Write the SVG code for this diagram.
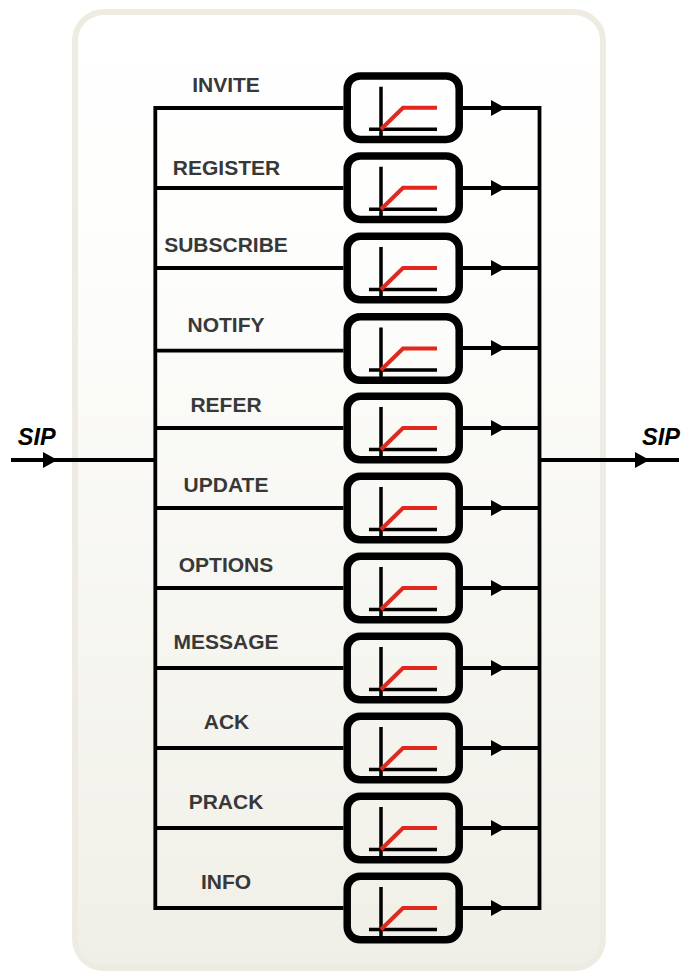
<svg xmlns="http://www.w3.org/2000/svg" width="683" height="971" viewBox="0 0 683 971">
<style>
.w{fill:none;stroke:#000;stroke-width:3.8}
.b{fill:none;stroke:#000;stroke-width:7.5}
.a{fill:none;stroke:#000;stroke-width:3.5}
.r{fill:none;stroke:#e1281e;stroke-width:4}
.l{font:bold 21px "Liberation Sans",Arial,sans-serif;fill:#383838;text-anchor:middle}
.s{font:italic bold 23.500px "Liberation Sans",Arial,sans-serif;fill:#000;text-anchor:middle}
</style>
<defs>
<linearGradient id="g" x1="0" y1="0" x2="0" y2="1"><stop offset="0" stop-color="#fff"/><stop offset="0.2" stop-color="#fefefd"/><stop offset="1" stop-color="#f0efe7"/></linearGradient>
<g id="f"><rect class="b" x="347.2" y="-31.800" width="112" height="63.600" rx="13"/><path class="a" d="M381 -21V32M369 21.500H437"/><path class="r" d="M381 21.500L403 0H437"/></g>
<path id="h" d="M0 -8L14.500 0L0 8Z" fill="#000"/>
</defs>
<rect id="panel" x="75" y="12" width="528" height="956" rx="29" fill="url(#g)" stroke="#eeece2" stroke-width="6"/>
<g id="connectors">
<path class="w" d="M155.300 106.100V910M153.500 108H343.500M155 188H343.500M155 268H343.500M155 350.700H343.500M155 428H343.500M155 508H343.500M155 588H343.500M155 668H343.500M155 748H343.500M155 828H343.500M155 908H343.500M11 460H155"/>
<path class="w" d="M463 108H541.400M463 188H540M463 268H540M463 348H540M463 428H540M463 508H540M463 588H540M463 668H540M463 748H540M463 828H540M463 908H541.400M539.500 106.100V909.900M540 460H679"/>
<use href="#h" x="43" y="460"/><use href="#h" x="635" y="460"/>
<use href="#h" x="491" y="108"/><use href="#h" x="491" y="188"/><use href="#h" x="491" y="268"/><use href="#h" x="491" y="348"/><use href="#h" x="491" y="428"/><use href="#h" x="491" y="508"/><use href="#h" x="491" y="588"/><use href="#h" x="491" y="668"/><use href="#h" x="491" y="748"/><use href="#h" x="491" y="828"/><use href="#h" x="491" y="908"/>
</g>
<g id="n1"><use href="#f" y="107.700"/><text class="l" x="226" y="92">INVITE</text></g>
<g id="n2"><use href="#f" y="187.700"/><text class="l" x="226.500" y="175">REGISTER</text></g>
<g id="n3"><use href="#f" y="268"/><text class="l" x="226" y="252">SUBSCRIBE</text></g>
<g id="n4"><use href="#f" y="348.500"/><text class="l" x="226" y="332">NOTIFY</text></g>
<g id="n5"><use href="#f" y="428"/><text class="l" x="226" y="412">REFER</text></g>
<g id="n6"><use href="#f" y="508"/><text class="l" x="226" y="492">UPDATE</text></g>
<g id="n7"><use href="#f" y="588"/><text class="l" x="226" y="572">OPTIONS</text></g>
<g id="n8"><use href="#f" y="668"/><text class="l" x="226" y="649">MESSAGE</text></g>
<g id="n9"><use href="#f" y="748"/><text class="l" x="226.500" y="729">ACK</text></g>
<g id="n10"><use href="#f" y="828"/><text class="l" x="226" y="809">PRACK</text></g>
<g id="n11"><use href="#f" y="908"/><text class="l" x="226" y="889">INFO</text></g>
<text id="sip-in" class="s" x="36.700" y="444.500">SIP</text>
<text id="sip-out" class="s" x="661" y="444.500">SIP</text>
</svg>
